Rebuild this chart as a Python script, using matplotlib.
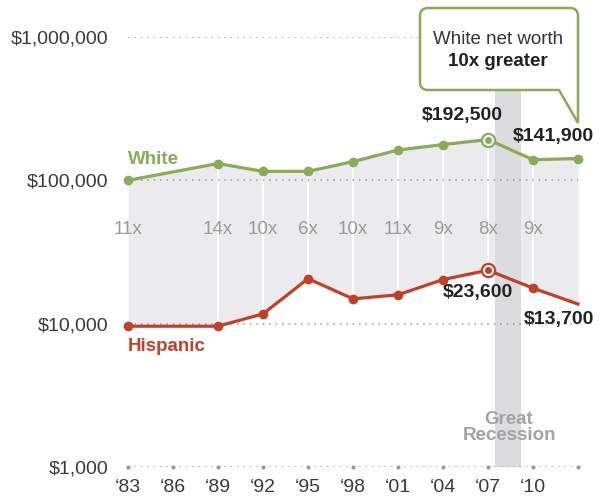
import matplotlib
matplotlib.use("Agg")
import matplotlib.pyplot as plt
from matplotlib.path import Path
from matplotlib.patches import PathPatch

plt.rcParams['font.family'] = ['Liberation Sans', 'DejaVu Sans']

# ---- data ----
years = [1983, 1989, 1992, 1995, 1998, 2001, 2004, 2007, 2010, 2013]
white = [100000, 131000, 115500, 115500, 135000, 162700, 177500, 192500, 139300, 141900]
hispanic = [9600, 9600, 11700, 20600, 14900, 15900, 20300, 23600, 17700, 13700]
ratio_years = [1983, 1989, 1992, 1995, 1998, 2001, 2004, 2007, 2010]
ratio_labels = ["11x", "14x", "10x", "6x", "10x", "11x", "9x", "8x", "9x"]
tick_years = [1983, 1986, 1989, 1992, 1995, 1998, 2001, 2004, 2007, 2010, 2013]
tick_labels = ["\u201883", "\u201886", "\u201889", "\u201892", "\u201895", "\u201898",
               "\u201801", "\u201804", "\u201807", "\u201810", ""]
y_ticks = [1000, 10000, 100000, 1000000]
y_labels = ["$1,000", "$10,000", "$100,000", "$1,000,000"]
recession = (2007.47, 2009.2)

GREEN = "#8aab5a"
RED = "#c0412b"
FILL = "#ebebed"
BAND = "#dcdcde"
GRID = "#9a9a9a"
DARK = "#222222"

W, H = 599, 500
fig = plt.figure(figsize=(W / 100, H / 100), dpi=100)
ax = fig.add_axes([128 / W, (H - 467) / H, 450 / W, 430 / H])
ax.set_yscale("log")
ax.set_xlim(1983, 2013)
ax.set_ylim(1000, 1000000)
for s in ax.spines.values():
    s.set_visible(False)

# shaded gap
ax.fill_between(years, hispanic, white, color=FILL, lw=0, zorder=1)
ax.vlines(years[1:-1], hispanic[1:-1], white[1:-1], color="white", lw=1.5, zorder=1.5)

# recession band
ax.axvspan(recession[0], recession[1], ymin=0, ymax=1, color=BAND, lw=0, zorder=1.6)

# gridlines
for yv in y_ticks:
    ax.plot([1983, 2013], [yv, yv], color=GRID, lw=1.1, ls=(0, (1, 3.2)), zorder=2)
ax.plot(tick_years, [1000] * len(tick_years), ls="none", marker="o", ms=3,
        color=GRID, mec="none", zorder=2.1, clip_on=False)

# lines
ax.plot(years, white, color=GREEN, lw=2.3, zorder=3, clip_on=False)
ax.plot(years, white, ls="none", marker="o", ms=7, color=GREEN, mec="none", zorder=4, clip_on=False)
ax.plot(years, hispanic, color=RED, lw=2.3, zorder=3, clip_on=False)
ax.plot(years[:-1], hispanic[:-1], ls="none", marker="o", ms=7, color=RED, mec="none", zorder=4, clip_on=False)

# highlighted 2007 rings
i07 = years.index(2007)
for vals, col in ((white, GREEN), (hispanic, RED)):
    ax.plot([2007], [vals[i07]], marker="o", ms=9.5, mfc="white", mec=col, mew=1.6, zorder=5, ls="none")
    ax.plot([2007], [vals[i07]], marker="o", ms=5, color=col, mec="none", zorder=6, ls="none")

# ratio labels
for yr, lab in zip(ratio_years, ratio_labels):
    ax.text(yr, 45500, lab, ha="center", va="center", fontsize=13.5, color="#9b9b9b", zorder=7)

# ticks
ax.set_yticks(y_ticks)
ax.set_yticklabels(y_labels)
ax.set_xticks(tick_years)
ax.set_xticklabels(tick_labels)
ax.yaxis.set_minor_locator(matplotlib.ticker.NullLocator())
ax.tick_params(axis="y", length=0, pad=14.4, labelsize=14, labelcolor="#3a3a3a")
ax.tick_params(axis="x", length=0, pad=9, labelsize=14, labelcolor="#3a3a3a")

# series labels
ax.text(1983, 121000, "White", color=GREEN, fontsize=13.5, fontweight="bold", ha="left", va="bottom")
ax.text(1983, 8000, "Hispanic", color=RED, fontsize=13.5, fontweight="bold", ha="left", va="top")

# value labels
ax.text(2005.27, 283000, "$192,500", color=DARK, fontsize=14, fontweight="bold", ha="center", va="center")
ax.text(2011.35, 203700, "$141,900", color=DARK, fontsize=14, fontweight="bold", ha="center", va="center", clip_on=False)
ax.text(2006.3, 16400, "$23,600", color=DARK, fontsize=14, fontweight="bold", ha="center", va="center")
ax.text(2011.7, 10660, "$13,700", color=DARK, fontsize=14, fontweight="bold", ha="center", va="center", clip_on=False)

# great recession label
ax.text(2008.4, 1900, "Great\nRecession", color="#a3a3a5", fontsize=13.5, fontweight="bold",
        ha="center", va="center", linespacing=0.92, zorder=7)

# callout box (figure pixel coords)
def fp(x, y):
    return (x / W, 1 - y / H)

L, R, T, B, r = 420, 578, 8, 90, 8
tip = (578, 123)
verts = [
    fp(L + r, T), fp(R - r, T), fp(R, T), fp(R, T + r),
    fp(*tip), fp(559, B), fp(L + r, B), fp(L, B), fp(L, B - r),
    fp(L, T + r), fp(L, T), fp(L + r, T), fp(L + r, T),
]
codes = [Path.MOVETO, Path.LINETO, Path.CURVE3, Path.CURVE3,
         Path.LINETO, Path.LINETO, Path.LINETO, Path.CURVE3, Path.CURVE3,
         Path.LINETO, Path.CURVE3, Path.CURVE3, Path.CLOSEPOLY]
patch = PathPatch(Path(verts, codes), facecolor="white", edgecolor=GREEN, lw=1.8,
                  transform=fig.transFigure, zorder=10, joinstyle="miter")
fig.add_artist(patch)
fig.text(498 / W, 1 - 40 / H, "White net worth", color="#333333", fontsize=13.5,
         ha="center", va="center", zorder=11)
fig.text(498 / W, 1 - 61 / H, "10x greater", color=DARK, fontsize=13.5, fontweight="bold",
         ha="center", va="center", zorder=11)

fig.savefig("out.png", dpi=100)
